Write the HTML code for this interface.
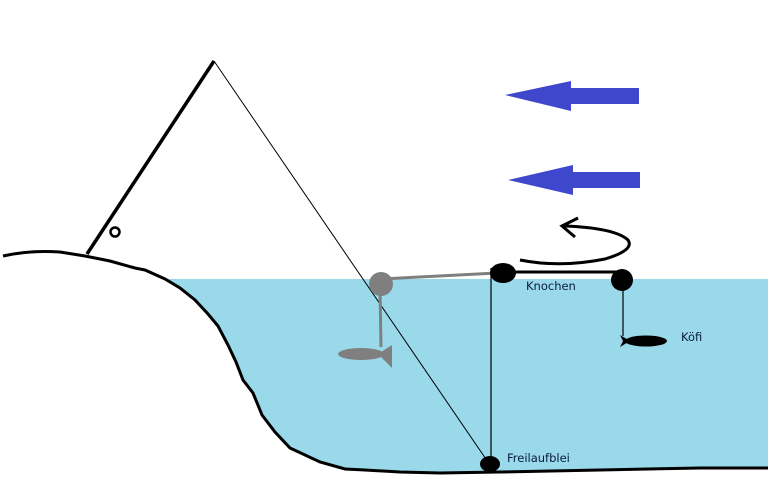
<!DOCTYPE html>
<html><head><meta charset="utf-8"><style>html,body{margin:0;padding:0;background:#fff}svg{display:block}</style></head>
<body>
<svg width="768" height="480" viewBox="0 0 768 480" xmlns="http://www.w3.org/2000/svg">
<path d="M168,279 L768,279 L768,468 L700,468 L600,470 L500,472 L440,473 L400,472 L365,470 L345,469 L320,462 L290,448 L275,432 L262,415 L253,393 L243,380 L236,362 L228,345 L218,325 L205,310 L190,296 Z" fill="#99d9ea"/>
<path d="M3,256 Q30,250 60,252 L85,256 L110,261 L135,268 L145,270 L165,279 L180,288 L195,300 L208,314 L218,326 L228,345 L236,362 L243,380 L253,393 L262,415 L275,432 L290,448 L320,462 L345,469 L365,470 L400,472 L440,473 L500,472 L600,470 L700,468 L768,468" fill="none" stroke="#000" stroke-width="3"/>
<line x1="87" y1="254" x2="214" y2="61" stroke="#000" stroke-width="3.5"/>
<circle cx="115" cy="232" r="4.5" fill="none" stroke="#000" stroke-width="2.5"/>
<line x1="214" y1="61" x2="490" y2="465" stroke="#000" stroke-width="1"/>
<line x1="380" y1="279" x2="497" y2="273" stroke="#7f7f7f" stroke-width="3"/>
<line x1="380" y1="290" x2="381" y2="347" stroke="#7f7f7f" stroke-width="3"/>
<circle cx="381" cy="284" r="12" fill="#7f7f7f"/>
<ellipse cx="361" cy="354" rx="23" ry="6" fill="#7f7f7f"/>
<path d="M378,354 L392,345 L392,368 Z" fill="#7f7f7f"/>
<line x1="491" y1="268" x2="491" y2="462" stroke="#000" stroke-width="1.2"/>
<line x1="503" y1="272" x2="622" y2="272" stroke="#000" stroke-width="3"/>
<ellipse cx="503" cy="273" rx="13" ry="10" fill="#000"/>
<circle cx="622" cy="280" r="11" fill="#000"/>
<line x1="623" y1="285" x2="623" y2="336" stroke="#000" stroke-width="1.2"/>
<ellipse cx="646" cy="341" rx="21" ry="5.5" fill="#000"/>
<path d="M630,341 L620,335 L623,341 L620,347 Z" fill="#000"/>
<ellipse cx="490" cy="464" rx="10" ry="8" fill="#000"/>
<path d="M520,260 Q560,268 605,259 Q635,250 628,240 Q615,228 565,226" fill="none" stroke="#000" stroke-width="3"/>
<path d="M578,218 L562,226 L575,237" fill="none" stroke="#000" stroke-width="3"/>
<path d="M505,95 L571,81 L571,88 L639,88 L639,104 L571,104 L571,111 Z" fill="#3f48cc"/>
<path d="M508,180 L573,165 L573,172 L640,172 L640,188 L573,188 L573,195 Z" fill="#3f48cc"/>
<g font-family="'DejaVu Sans', 'Liberation Sans', sans-serif" font-size="11.5" fill="#0a1a40">
<text x="526" y="290">Knochen</text>
<text x="681" y="341">Köfi</text>
<text x="507" y="462">Freilaufblei</text>
</g>
</svg>
</body></html>
